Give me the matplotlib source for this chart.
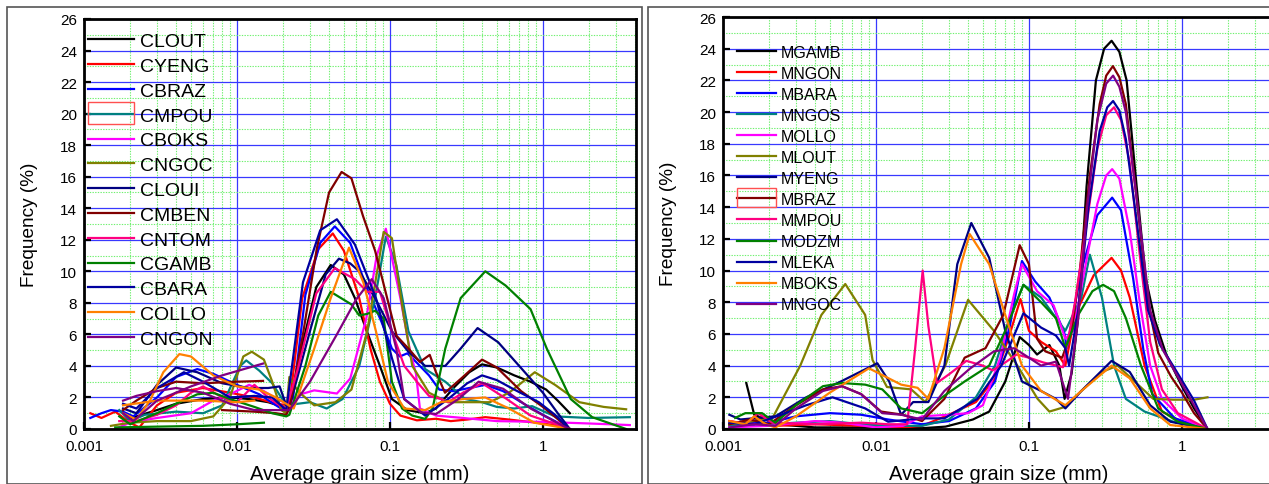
import numpy as np
import matplotlib
matplotlib.use("Agg")
import matplotlib.pyplot as plt
from matplotlib.patches import Rectangle
from matplotlib.ticker import LogLocator, MultipleLocator, FixedLocator, NullFormatter

plt.rcParams['font.family'] = ['Liberation Sans', 'DejaVu Sans']

NAN = float('nan')

# ---- left panel (C-samples): grain size (mm), frequency (%) ----
CLOUT = ([0.0018, 0.0022, 0.003, 0.004, 0.006, 0.009, 0.012, 0.016, 0.02, 0.022, 0.027, 0.033, 0.041, 0.05, 0.059, 0.07, 0.086,
          0.103, 0.13, 0.169, 0.2, 0.26, 0.33, 0.4, 0.5, 0.65, 0.83, 1.05, 1.25, 1.5],
         [0.5, 0.8, 1.2, 1.6, 1.9, 2.0, 1.9, 1.7, 1.4, 1.2, 5.5, 9.0, 10.4, 9.8, 8.3, 6.3, 4.0,
          1.9, 1.2, 1.0, 1.3, 2.6, 3.6, 4.1, 3.9, 3.4, 3.0, 2.5, 1.8, 1.0])
CYENG = ([0.0011, 0.0013, 0.0016, 0.002, 0.0023, 0.003, 0.004, 0.006, 0.009, 0.013, 0.018, 0.022, 0.0267, 0.034, 0.0423, 0.05, 0.063,
          0.075, 0.086, 0.1, 0.117, 0.15, 0.2, 0.25, 0.32, 0.42, 0.6, 0.9, 1.3],
         [1.0, 0.7, 1.1, 0.4, 0.1, 1.5, 2.3, 2.6, 2.3, 2.0, 1.6, 1.5, 8.3, 11.4, 12.4, 11.3, 8.3,
          5.0, 3.0, 1.6, 0.85, 0.55, 0.65, 0.5, 0.6, 0.75, 0.6, 0.4, 0.2])
CBRAZ = ([0.0011, 0.0013, 0.0015, 0.0018, 0.0021, 0.003, 0.004, 0.0055, 0.007, 0.01, 0.014, 0.018, 0.021, 0.023, 0.028, 0.035, 0.0436,
          0.055, 0.071, 0.088, 0.103, 0.116, 0.13, 0.15, 0.18, 0.21, 0.26, 0.33, 0.42, 0.55, 0.75, 1.0, 1.5],
         [0.7, 1.0, 1.2, 1.1, 0.8, 2.0, 3.3, 3.8, 3.5, 2.8, 2.2, 1.5, 1.1, 1.6, 8.5, 11.8, 12.85,
          11.8, 8.9, 6.8, 5.1, 4.6, 4.8, 4.2, 3.4, 2.5, 2.4, 2.6, 2.8, 2.4, 1.6, 0.9, 0.0])
CMPOU = ([0.0017, 0.002, 0.0025, 0.004, 0.006, 0.008, 0.0105, 0.0115, 0.014, 0.017, 0.021, 0.025, 0.03, 0.0386, 0.049, 0.063, 0.08,
          0.094, 0.11, 0.132, 0.17, 0.23, 0.31, 0.4, 0.5, 0.65, 0.85, 1.2, 2.0, 3.7],
         [1.2, 0.5, 0.9, 1.1, 1.0, 1.5, 4.0, 4.35, 3.7, 2.9, 1.5, 1.6, 1.7, 1.3, 1.9, 4.0, 8.3,
          12.2, 10.4, 6.2, 3.8, 3.0, 1.9, 1.7, 1.4, 1.3, 1.45, 0.8, 0.7, 0.75])
CBOKS = ([0.0016, 0.002, 0.003, 0.005, 0.007, 0.009, 0.012, 0.015, 0.019, 0.022, 0.026, 0.032, 0.045, 0.055, 0.07, 0.082,
          0.094, 0.117, 0.135, 0.148, 0.157, 0.2, 0.3, 0.5, 1.0, 2.0, 3.7],
         [0.0, 0.4, 0.7, 1.0, 1.8, 2.2, 2.8, 2.4, 1.8, 1.6, 2.2, 2.45, 2.25, 3.2, 7.0, 11.0,
          12.7, 8.3, 5.0, 3.5, 1.3, 0.85, 0.7, 0.5, 0.45, 0.35, 0.25])
CNGOC = ([0.0015, 0.002, 0.003, 0.005, 0.007, 0.009, 0.011, 0.0125, 0.015, 0.017, 0.0195, 0.021, 0.022, 0.025, 0.032, 0.044, 0.056,
          0.071, 0.091, 0.103, 0.123, 0.14, 0.18, 0.24, 0.45, 0.6, 0.885, 1.2, 1.73, 2.5, 3.5],
         [0.2, 0.4, 0.5, 0.5, 0.8, 2.0, 4.6, 4.9, 4.4, 3.0, 1.2, 1.0, 3.3, 2.4, 1.5, 1.7, 2.5,
          6.2, 12.5, 12.1, 7.2, 4.0, 2.3, 1.7, 1.7, 2.3, 3.6, 2.8, 1.7, 1.4, 1.25])
CLOUI = ([0.0018, 0.0022, 0.003, 0.004, 0.0055, 0.008, 0.012, 0.016, 0.019, 0.021, 0.022, 0.03, 0.038, 0.0464, 0.055, 0.063, 0.08,
          0.103, 0.132, 0.17, 0.23, 0.29, 0.374, 0.51, 0.73, 1.0, 1.25, 1.5],
         [1.3, 1.0, 2.8, 3.9, 3.6, 2.9, 2.6, 2.6, 2.7, 1.5, 1.4, 6.2, 9.8, 10.8, 10.5, 10.0, 8.3,
          6.2, 4.9, 4.0, 4.0, 5.1, 6.4, 5.5, 3.8, 2.3, 1.0, 0.0])
CMBEN = ([0.0018, 0.0022, 0.003, 0.004, 0.006, 0.01, 0.0148, NAN, 0.008, 0.013, 0.018, 0.021, 0.022, 0.027, 0.0332, 0.04, 0.0483,
          0.056, 0.0667, 0.08, 0.0903, 0.1107, 0.135, 0.157, 0.182, 0.2, 0.229, 0.3, 0.4, 0.5, 0.72, 1.0, 1.5],
         [1.2, 1.8, 2.6, 3.0, 2.9, 3.0, 3.05, NAN, 1.2, 1.1, 1.0, 0.9, 1.3, 6.0, 11.4, 15.0, 16.3,
          15.9, 13.5, 11.3, 9.3, 5.9, 5.0, 4.25, 4.7, 3.6, 2.3, 3.3, 4.4, 3.9, 2.4, 1.4, 0.0])
CNTOM = ([0.0017, 0.0022, 0.003, 0.004, 0.005, 0.006, 0.008, 0.01, 0.013, 0.016, 0.019, 0.021, 0.025, 0.033, 0.0436, 0.059, 0.071,
          0.086, 0.103, 0.124, 0.15, 0.18, 0.215, 0.24, 0.3, 0.4, 0.58, 0.83, 1.5],
         [0.5, 0.5, 0.9, 1.5, 2.3, 2.7, 2.0, 1.7, 2.8, 2.0, 1.5, 1.3, 3.8, 8.6, 10.2, 9.5, 8.7,
          8.7, 6.2, 4.0, 3.0, 2.1, 1.9, 1.7, 2.3, 2.9, 1.9, 0.85, 0.0])
CGAMB = ([0.0017, 0.002, 0.003, 0.004, 0.0055, 0.007, 0.009, 0.013, 0.017, 0.021, 0.022, 0.028, 0.034, 0.041, 0.056, 0.063, 0.071,
          0.08, 0.091, 0.103, 0.12, 0.14, 0.17, 0.19, 0.23, 0.29, 0.42, 0.57, 0.83, 1.06, 1.52, 2.1, 3.5,
          NAN, 0.0016, 0.003, 0.006, 0.01, 0.015],
         [0.8, 0.3, 1.0, 1.6, 2.2, 2.3, 1.9, 1.4, 1.0, 0.8, 0.9, 4.0, 7.2, 8.7, 7.9, 7.2, 7.3,
          7.5, 7.0, 3.0, 1.3, 0.85, 0.64, 1.3, 5.1, 8.3, 10.0, 9.1, 7.6, 5.1, 1.9, 0.75, 0.0,
          NAN, 0.1, 0.15, 0.2, 0.3, 0.4])
CBARA = ([0.0018, 0.0022, 0.003, 0.0045, 0.006, 0.009, 0.013, 0.017, 0.021, 0.027, 0.035, 0.045, 0.059, 0.081, 0.103, 0.124, 0.17,
          0.24, 0.32, 0.4, 0.5, 0.65, 0.94, 1.2, 1.49],
         [1.6, 1.3, 2.6, 3.6, 3.0, 2.0, 2.1, 2.0, 1.2, 9.3, 12.6, 13.3, 11.7, 8.3, 4.5, 1.9, 0.85,
          1.9, 2.9, 3.4, 3.1, 2.5, 1.7, 0.9, 0.0])
COLLO = ([0.0018, 0.0022, 0.0027, 0.0033, 0.0042, 0.005, 0.007, 0.01, 0.014, 0.018, 0.0235, 0.032, 0.041, 0.054, 0.067, 0.081,
          0.097, 0.124, 0.17, 0.215, 0.3, 0.42, 0.6, 0.88, 1.5,
          NAN, 0.0018, 0.003, 0.006, 0.01, 0.013],
         [1.0, 0.6, 1.8, 3.6, 4.75, 4.6, 3.4, 2.7, 2.5, 2.0, 1.3, 5.1, 8.3, 11.5, 9.3, 6.2,
          3.0, 1.3, 1.2, 1.7, 1.9, 2.0, 1.3, 0.4, 0.0,
          NAN, 1.5, 1.8, 1.8, 1.7, 1.8])
CNGON = ([0.0018, 0.0022, 0.003, 0.004, 0.006, 0.009, 0.013, 0.018, 0.022, 0.03, 0.045, 0.06, 0.076, 0.091, 0.11, 0.124, 0.16,
          0.2, 0.28, 0.38, 0.55, 0.83, 1.35, 1.5,
          NAN, 0.0018, 0.0021, 0.003, 0.005, 0.008, 0.0148],
         [1.8, 2.1, 2.4, 2.6, 2.3, 1.6, 1.2, 1.2, 1.2, 3.0, 6.0, 8.2, 9.5, 8.3, 5.1, 1.9, 1.06,
          0.95, 1.9, 3.0, 2.55, 1.3, 0.2, 0.0,
          NAN, 1.0, 0.5, 1.8, 2.7, 3.4, 4.15])

# ---- right panel (M-samples) ----
MGAMB = ([0.00142, 0.0016, 0.0019, 0.0022, 0.004, 0.01, 0.02, 0.0285, 0.043, 0.055, 0.07, 0.087, 0.1, 0.113, 0.136, 0.158, 0.171,
          0.19, 0.209, 0.238, 0.274, 0.31, 0.347, 0.39, 0.435, 0.506, 0.58, 0.667, 0.79, 1.0, 1.2, 1.47],
         [2.9, 0.9, 0.6, 0.3, 0.1, 0.1, 0.05, 0.15, 0.6, 1.1, 3.0, 5.8, 5.3, 4.7, 5.3, 4.0, 1.9,
          3.5, 6.85, 15.3, 22.0, 24.0, 24.5, 23.8, 22.0, 15.3, 9.5, 6.85, 4.7, 2.7, 1.3, 0.0])
MNGON = ([0.0011, 0.0015, 0.0018, 0.0022, 0.004, 0.008, 0.015, 0.02, 0.03, 0.045, 0.06, 0.075, 0.088, 0.1, 0.12, 0.15, 0.173,
          0.2, 0.265, 0.347, 0.4, 0.456, 0.57, 0.74, 1.0, 1.47],
         [0.5, 0.3, 0.8, 0.2, 0.3, 0.2, 0.1, 0.2, 0.9, 1.7, 3.2, 6.0, 8.2, 6.2, 5.5, 4.9, 4.0,
          7.2, 9.7, 10.8, 10.0, 8.3, 4.0, 1.1, 0.46, 0.0])
MBARA = ([0.0011, 0.002, 0.003, 0.005, 0.008, 0.012, 0.02, 0.03, 0.045, 0.06, 0.075, 0.09, 0.11, 0.136, 0.17, 0.177, 0.22,
          0.28, 0.35, 0.4, 0.48, 0.56, 0.64, 0.9, 1.47],
         [0.3, 0.4, 0.8, 1.0, 0.9, 0.6, 0.3, 0.5, 1.3, 3.0, 6.5, 10.6, 9.3, 8.3, 6.1, 5.1, 10.0,
          13.5, 14.6, 13.8, 9.5, 5.0, 2.2, 0.67, 0.0])
MNGOS = ([0.0011, 0.002, 0.003, 0.005, 0.008, 0.012, 0.02, 0.03, 0.045, 0.06, 0.075, 0.092, 0.12, 0.173, 0.22, 0.25, 0.3,
          0.36, 0.43, 0.57, 0.88, 1.47],
         [0.2, 0.3, 0.4, 0.5, 0.3, 0.2, 0.2, 0.6, 2.0, 4.0, 7.0, 9.1, 8.3, 6.2, 8.3, 11.0, 8.3,
          4.0, 1.9, 1.1, 0.46, 0.0])
MOLLO = ([0.0011, 0.002, 0.004, 0.006, 0.01, 0.015, 0.02, 0.03, 0.04, 0.05, 0.065, 0.08, 0.09, 0.113, 0.145, 0.173, 0.195,
          0.235, 0.28, 0.32, 0.35, 0.39, 0.456, 0.53, 0.62, 0.74, 1.0, 1.47],
         [0.1, 0.2, 0.5, 0.4, 0.1, 0.2, 0.8, 0.9, 1.0, 1.5, 4.5, 8.5, 10.4, 8.7, 7.8, 5.7, 6.2,
          10.4, 14.2, 16.0, 16.4, 15.8, 12.5, 8.0, 4.0, 1.9, 0.67, 0.0])
MLOUT = ([0.0011, 0.0021, 0.0032, 0.0044, 0.0063, 0.0085, 0.0095, 0.0118, 0.017, 0.021, 0.0284, 0.04, 0.059, 0.084, 0.114, 0.136,
          0.173, 0.22, 0.3, 0.38, 0.49, 0.65, 0.88, 1.2, 1.47],
         [0.3, 0.67, 4.0, 7.2, 9.15, 7.2, 4.35, 2.65, 2.5, 1.7, 4.0, 8.15, 6.2, 4.0, 1.9, 1.1,
          1.4, 2.4, 3.6, 4.0, 3.0, 1.9, 1.85, 1.85, 2.0])
MYENG = ([0.0011, 0.0013, 0.0022, 0.0035, 0.0059, 0.0102, 0.0122, 0.0146, 0.0175, 0.022, 0.028, 0.034, 0.042, 0.055, 0.07, 0.09,
          0.12, 0.15, 0.173, 0.22, 0.347, 0.456, 0.62, 0.84, 1.47],
         [0.9, 0.6, 0.8, 2.0, 3.0, 4.15, 3.0, 0.9, 1.7, 1.7, 4.0, 10.4, 13.0, 10.8, 6.2, 3.0,
          2.4, 1.9, 1.3, 2.4, 4.3, 3.6, 1.5, 0.46, 0.0])
MBRAZ = ([0.0011, 0.0015, 0.002, 0.003, 0.0045, 0.006, 0.008, 0.0108, 0.015, 0.02, 0.028, 0.038, 0.052, 0.068, 0.087, 0.1, 0.113,
          0.128, 0.165, 0.19, 0.215, 0.25, 0.29, 0.32, 0.354, 0.39, 0.43, 0.5, 0.6, 0.7, 0.85, 1.0, 1.2, 1.47],
         [0.3, 0.6, 0.3, 1.5, 2.5, 2.7, 2.2, 1.1, 0.9, 0.5, 1.9, 4.5, 5.1, 7.2, 11.6, 10.4, 5.7,
          4.9, 4.5, 6.2, 10.0, 16.0, 20.5, 22.3, 22.9, 22.2, 20.5, 15.0, 8.0, 4.8, 3.3, 2.3, 1.0, 0.0])
MMPOU = ([0.0011, 0.0014, 0.0017, 0.0021, 0.004, 0.008, 0.012, 0.016, 0.018, 0.0202, 0.022, 0.025, 0.0305, 0.039, 0.05, 0.058,
          0.07, 0.083, 0.1, 0.124, 0.167, 0.2, 0.235, 0.28, 0.32, 0.36, 0.4, 0.456, 0.53, 0.62, 0.74, 0.94, 1.47],
         [0.5, 0.3, 1.0, 0.4, 0.3, 0.4, 0.3, 0.3, 5.0, 10.0, 6.5, 2.9, 3.5, 4.3, 4.0, 3.7,
          4.2, 4.7, 4.5, 4.2, 3.9, 8.0, 12.5, 17.7, 19.8, 20.3, 19.5, 16.8, 11.0, 5.5, 2.5, 1.0, 0.0])
MODZM = ([0.0012, 0.0014, 0.0018, 0.0022, 0.003, 0.0045, 0.006, 0.0085, 0.011, 0.0146, 0.02, 0.028, 0.038, 0.055, 0.07, 0.092,
          0.12, 0.15, 0.173, 0.21, 0.26, 0.305, 0.36, 0.43, 0.54, 0.7, 0.94, 1.47],
         [0.7, 1.0, 1.0, 0.4, 1.5, 2.7, 2.9, 2.8, 2.5, 1.3, 1.0, 2.1, 3.0, 4.0, 6.2, 9.1,
          8.0, 7.0, 5.1, 7.2, 8.7, 9.1, 8.7, 7.0, 4.0, 1.3, 0.46, 0.0])
MLEKA = ([0.0011, 0.0016, 0.0024, 0.0035, 0.0052, 0.0085, 0.012, 0.0198, 0.028, 0.046, 0.066, 0.092, 0.12, 0.15, 0.173, 0.183,
          0.21, 0.245, 0.29, 0.325, 0.355, 0.39, 0.43, 0.5, 0.6, 0.72, 0.9, 1.2, 1.47],
         [0.4, 0.3, 0.9, 1.5, 2.0, 1.3, 0.46, 0.67, 0.67, 1.9, 4.0, 7.3, 6.4, 5.9, 5.1, 4.0,
          7.5, 14.0, 18.8, 20.3, 20.7, 20.1, 18.3, 13.5, 7.5, 5.3, 3.8, 1.8, 0.0])
MBOKS = ([0.0011, 0.0014, 0.0016, 0.0019, 0.0022, 0.003, 0.005, 0.009, 0.0146, 0.0187, 0.022, 0.028, 0.036, 0.041, 0.055, 0.07,
          0.09, 0.12, 0.173, 0.22, 0.347, 0.456, 0.62, 0.84, 1.47],
         [0.5, 0.3, 0.8, 0.3, 0.1, 0.8, 2.3, 3.83, 2.8, 2.6, 1.9, 5.1, 10.4, 12.3, 10.4, 7.2,
          4.0, 2.4, 1.5, 2.4, 4.0, 3.2, 1.3, 0.25, 0.0])
MNGOC = ([0.0011, 0.0016, 0.0022, 0.003, 0.0045, 0.006, 0.008, 0.011, 0.0146, 0.02, 0.028, 0.041, 0.059, 0.08, 0.1, 0.12,
          0.15, 0.18, 0.21, 0.24, 0.28, 0.32, 0.355, 0.39, 0.43, 0.5, 0.62, 0.75, 0.94, 1.2, 1.47],
         [0.1, 0.3, 0.2, 1.3, 2.4, 2.7, 2.2, 1.0, 0.9, 0.6, 2.4, 3.8, 4.9, 5.1, 4.5, 4.0,
          4.25, 1.9, 7.0, 14.0, 19.5, 21.8, 22.3, 21.6, 20.0, 15.0, 7.5, 5.0, 3.3, 1.5, 0.0])

LEFT_NAMES = ['CLOUT', 'CYENG', 'CBRAZ', 'CMPOU', 'CBOKS', 'CNGOC', 'CLOUI', 'CMBEN', 'CNTOM', 'CGAMB', 'CBARA', 'COLLO', 'CNGON']
LEFT_DATA = [CLOUT, CYENG, CBRAZ, CMPOU, CBOKS, CNGOC, CLOUI, CMBEN, CNTOM, CGAMB, CBARA, COLLO, CNGON]
RIGHT_NAMES = ['MGAMB', 'MNGON', 'MBARA', 'MNGOS', 'MOLLO', 'MLOUT', 'MYENG', 'MBRAZ', 'MMPOU', 'MODZM', 'MLEKA', 'MBOKS', 'MNGOC']
RIGHT_DATA = [MGAMB, MNGON, MBARA, MNGOS, MOLLO, MLOUT, MYENG, MBRAZ, MMPOU, MODZM, MLEKA, MBOKS, MNGOC]

# Origin-like default palette
COLORS = ['#000000', '#ff0000', '#0000ff', '#008080', '#ff00ff', '#808000', '#000080',
          '#800000', '#ff0080', '#008000', '#0000a0', '#ff8000', '#800080']

W, H = 1269, 485


def setup_axes(ax):
    ax.set_xscale('log')
    ax.set_xlim(0.001, 4.06)
    ax.set_ylim(0, 26)
    ax.xaxis.set_major_locator(FixedLocator([0.001, 0.01, 0.1, 1]))
    ax.xaxis.set_minor_locator(LogLocator(base=10, subs=np.arange(2, 10)))
    ax.xaxis.set_minor_formatter(NullFormatter())
    ax.set_xticklabels(['0.001', '0.01', '0.1', '1'])
    ax.yaxis.set_major_locator(MultipleLocator(2))
    ax.yaxis.set_minor_locator(MultipleLocator(1))
    ax.grid(which='minor', color='#70f070', linestyle=(0, (1.2, 1.2)), linewidth=0.8)
    ax.grid(which='major', color='#3838ff', linestyle='-', linewidth=0.9)
    ax.set_axisbelow(True)
    ax.tick_params(which='major', direction='in', length=5, width=1.6, labelsize=11)
    ax.tick_params(axis='x', which='major', pad=7)
    ax.tick_params(axis='y', which='major', pad=5)
    ax.tick_params(which='minor', length=0)
    for s in ax.spines.values():
        s.set_linewidth(2.0)
    ax.set_xlabel('Average grain size (mm)', fontsize=14.5, labelpad=8)
    ax.set_ylabel('Frequency (%)', fontsize=13.7, labelpad=16)


def draw(ax, names, data, fs, spacing, hlen, anchor):
    for name, (xs, ys), c in zip(names, data, COLORS):
        ax.plot(xs, ys, color=c, linewidth=1.6, label=name)
    ax.legend(loc='upper left', bbox_to_anchor=anchor, frameon=False, fontsize=fs,
              labelspacing=spacing, handlelength=hlen, handletextpad=0.3,
              borderaxespad=0, borderpad=0)


fig = plt.figure(figsize=(W / 100, H / 100), dpi=100)

ax1 = fig.add_axes([84 / W, 1 - 430 / H, 552 / W, 410 / H])
setup_axes(ax1)
draw(ax1, LEFT_NAMES, LEFT_DATA, 14, 0.37, 2.37, (4 / 552, 1 - 13.5 / 410))

ax2 = fig.add_axes([723 / W, 1 - 430 / H, 552 / W, 412 / H])
setup_axes(ax2)
draw(ax2, RIGHT_NAMES, RIGHT_DATA, 11.5, 0.38, 2.44, (14 / 552, 1 - 27.5 / 412))

# panel frames
fig.add_artist(Rectangle((7 / W, 0), 635 / W, 1 - 8 / H, transform=fig.transFigure,
                         fill=False, edgecolor='#555555', linewidth=1.2))
fig.add_artist(Rectangle((648 / W, 0), 640 / W, 1 - 8 / H, transform=fig.transFigure,
                         fill=False, edgecolor='#555555', linewidth=1.2))
# selection boxes around legend handles
fig.add_artist(Rectangle((88 / W, 1 - 125 / H), 46 / W, 22 / H, transform=fig.transFigure,
                         fill=False, edgecolor='#ff5050', linewidth=1))
fig.add_artist(Rectangle((737 / W, 1 - 208 / H), 39 / W, 19 / H, transform=fig.transFigure,
                         fill=False, edgecolor='#ff5050', linewidth=1))

fig.savefig('out.png', dpi=100)
